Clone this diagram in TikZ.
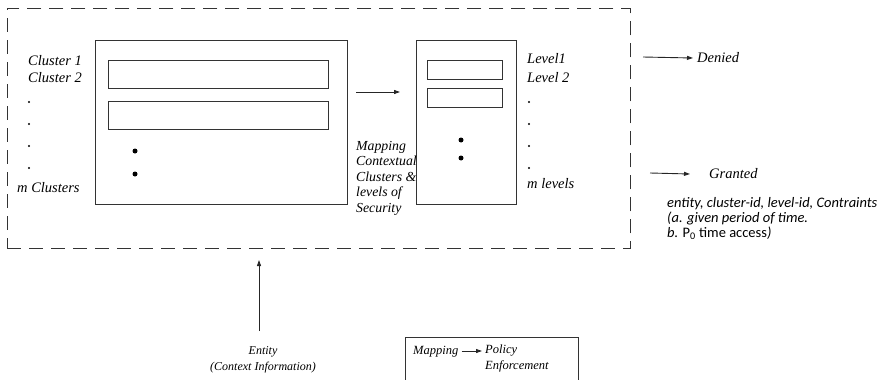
\documentclass[tikz,border=0pt]{standalone}
\usepackage{fontspec}
\setmainfont{Liberation Serif}
\newfontfamily\calfont{Carlito}
\usetikzlibrary{arrows.meta}
\begin{document}
\begin{tikzpicture}[x=1pt,y=-1pt,
  box/.style={draw=black!80,line width=0.9pt},
  lbl/.style={font=\fontsize{14.5}{16}\selectfont\itshape,anchor=west,inner sep=0pt,align=left},
  mlbl/.style={font=\fontsize{13.8}{15.5}\selectfont\itshape,anchor=west,inner sep=0pt,align=left},
  slbl/.style={font=\fontsize{12.5}{16}\selectfont\itshape,anchor=west,inner sep=0pt,align=left},
  cal/.style={font=\calfont\fontsize{14.5}{15}\selectfont\itshape,anchor=west,inner sep=0pt,align=left},
  arr/.style={draw=black!85,line width=0.9pt,-{Triangle[length=6pt,width=4pt]}},
  blt/.style={circle,fill=black,inner sep=0pt,minimum size=5pt},
  sdot/.style={circle,fill=black,inner sep=0pt,minimum size=2.2pt}]
\useasboundingbox (0,0) rectangle (881,380);
% dashed frame
\node[draw=black!80,line width=0.9pt,dash pattern=on 14pt off 8pt,minimum width=623pt,minimum height=240pt,inner sep=0pt,anchor=north west] (frame) at (7,8) {};
% cluster box
\node[box,minimum width=252pt,minimum height=164pt,inner sep=0pt,anchor=north west] (cbox) at (95,40) {};
\node[box,minimum width=220pt,minimum height=28pt,inner sep=0pt,anchor=north west] (c1) at (108,60) {};
\node[box,minimum width=220pt,minimum height=28pt,inner sep=0pt,anchor=north west] (c2) at (108,101) {};
\node[blt] (cb1) at (135,151) {};
\node[blt] (cb2) at (135,174) {};
% left labels
\node[lbl] (cl1) at (28,61) {Cluster 1};
\node[lbl] (cl2) at (28,78) {Cluster 2};
\node[sdot] (d1) at (29,102) {};
\node[sdot] (d2) at (29,124) {};
\node[sdot] (d3) at (29,146) {};
\node[sdot] (d4) at (29,168) {};
\node[lbl] (mcl) at (17,188) {m Clusters};
% level box
\node[box,minimum width=100pt,minimum height=164pt,inner sep=0pt,anchor=north west] (lbox) at (416,40) {};
\node[box,minimum width=75pt,minimum height=19pt,inner sep=0pt,anchor=north west] (l1) at (427,60) {};
\node[box,minimum width=75pt,minimum height=19pt,inner sep=0pt,anchor=north west] (l2) at (427,88) {};
\node[blt] (lb1) at (461,140) {};
\node[blt] (lb2) at (461,158) {};
% arrow between
\coordinate (a1) at (356,92);
\coordinate (a2) at (400,92);
\draw[arr] (a1) -- (a2);
\node[mlbl,anchor=north west] (map) at (356,141) {Mapping\\Contextual\\Clusters \&\\levels of\\Security};
% level labels
\node[lbl] (lv1) at (527,59) {Level1};
\node[lbl] (lv2) at (527,78) {Level 2};
\node[sdot] (e1) at (529,102) {};
\node[sdot] (e2) at (529,124) {};
\node[sdot] (e3) at (529,146) {};
\node[sdot] (e4) at (529,168) {};
\node[lbl] (mlv) at (527,184) {m levels};
% outcomes
\coordinate (dn1) at (643,57);
\node[lbl] (denied) at (697,58) {Denied};
\draw[arr] (dn1) -- ([xshift=-4pt]denied.west);
\coordinate (gr1) at (650,173);
\node[lbl] (granted) at (709,174) {Granted};
\draw[arr] (gr1) -- ([xshift=-19pt]granted.west);
\node[cal,anchor=north west] (info) at (667,197) {entity, cluster-id, level-id, Contraints\\(a. given period of time.\\b. {\upshape P\textsubscript{0} time access})};
% entity
\node[slbl,font=\fontsize{12}{16}\selectfont\itshape,align=center,anchor=north] (ent) at (263,346) {Entity\\(Context Information)};
\coordinate (et) at (259,331);
\coordinate (eh) at (259,260);
\draw[arr] (et) -- (eh);
% mapping box
\node[box,minimum width=173pt,minimum height=60pt,inner sep=0pt,anchor=north west] (mbox) at (405,337) {};
\node[slbl] (mp) at (413,352) {Mapping};
\node[slbl,anchor=north west] (pe) at (485,345) {Policy\\Enforcement};
\draw[arr] (mp.east) ++(3pt,1pt) -- ([xshift=-3pt,yshift=1pt]pe.north west |- mp.east);
\end{tikzpicture}
\end{document}
